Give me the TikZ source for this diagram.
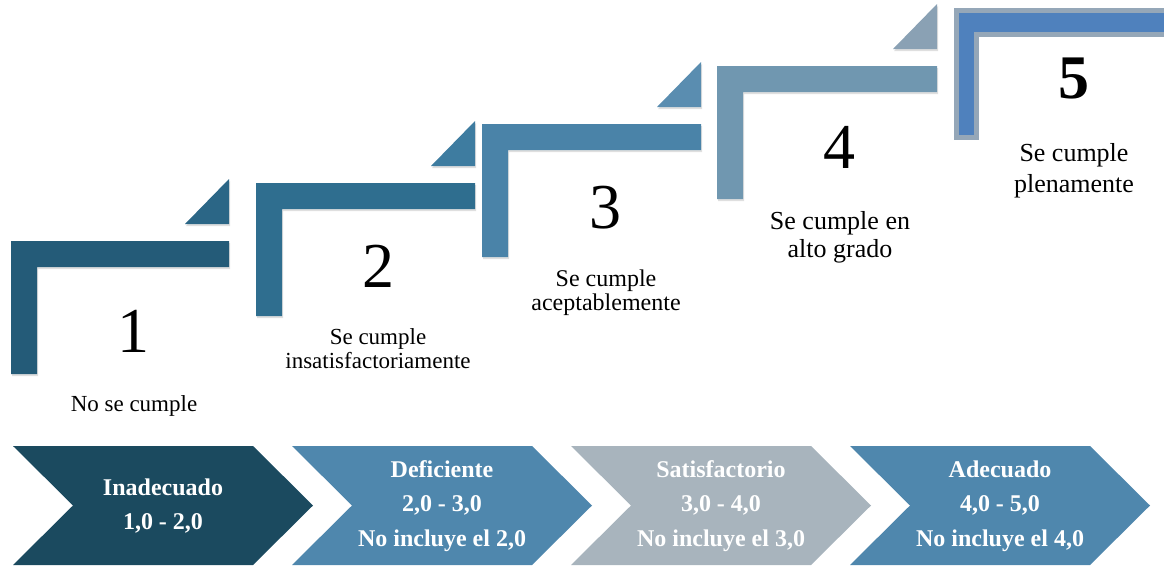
\documentclass[tikz,border=0pt]{standalone}
\usepackage{fontspec}
\setmainfont{Liberation Serif}
\usepackage{xcolor}
\definecolor{stepone}{RGB}{36,91,120}
\definecolor{steponetri}{RGB}{43,102,134}
\definecolor{steptwo}{RGB}{47,110,143}
\definecolor{steptwotri}{RGB}{62,124,160}
\definecolor{stepthree}{RGB}{74,131,168}
\definecolor{stepthreetri}{RGB}{90,141,176}
\definecolor{stepfour}{RGB}{112,151,176}
\definecolor{stepfourtri}{RGB}{138,161,180}
\definecolor{stepfive}{RGB}{79,129,189}
\definecolor{stepfiveedge}{RGB}{149,167,184}
\definecolor{chevdark}{RGB}{27,74,95}
\definecolor{chevblue}{RGB}{79,135,173}
\definecolor{chevgray}{RGB}{168,180,189}
\usetikzlibrary{shadows}

\begin{document}
\begin{tikzpicture}[x=1pt, y=-1pt,
  num/.style={font=\fontsize{64}{64}\selectfont, anchor=base, inner sep=0pt},
  lbl/.style={font=\fontsize{23}{24}\selectfont, align=center, anchor=base, inner sep=0pt},
  chevtxt/.style={font=\fontsize{24}{34.5}\selectfont\bfseries, text=white, align=center, inner sep=0pt},
  soft/.style={drop shadow={opacity=0.25, shadow xshift=1pt, shadow yshift=-2pt}}]
  \useasboundingbox (0,0) rectangle (1164,565);
  % steps
  \foreach \l/\t/\r/\c in {11/241/229/stepone, 256/183/475/steptwo, 482/124/701/stepthree, 717/66/937/stepfour}{
    \fill[\c, soft] (\l,\t) -- (\r,\t) -- (\r,\t+26) -- (\l+26,\t+26) -- (\l+26,\t+133) -- (\l,\t+133) -- cycle;
    \fill[\c tri, soft] (\r-44,\t-17) -- (\r,\t-62) -- (\r,\t-17) -- cycle;
  }
  \draw[stepfiveedge, fill=stepfive, line width=5pt, soft] (956.5,10.5) -- (1175,10.5) -- (1175,34.5) -- (976.5,34.5) -- (976.5,137.5) -- (956.5,137.5) -- cycle;

  % numbers and texts (base = last line)
  \node[num] (n1) at (133,352) {1};
  \node[num] (n2) at (378,287) {2};
  \node[num] (n3) at (605,228) {3};
  \node[num] (n4) at (839,168) {4};
  \node[num, font=\fontsize{62}{62}\selectfont\bfseries] (n5) at (1074,98) {5};
  \node[lbl] (l1) at (134,411) {No se cumple};
  \node[lbl] (l2) at (378,368) {Se cumple\\insatisfactoriamente};
  \node[lbl, font=\fontsize{24}{24}\selectfont] (l3) at (606,310) {Se cumple\\aceptablemente};
  \node[lbl, font=\fontsize{26}{28}\selectfont] (l4) at (840,257) {Se cumple en\\alto grado};
  \node[lbl, font=\fontsize{26}{31}\selectfont] (l5) at (1074,192) {Se cumple\\plenamente};

  % chevrons
  \foreach \x/\c/\txt [count=\i] in {13/chevdark/{Inadecuado\\1,0 - 2,0}, 292/chevblue/{Deficiente\\2,0 - 3,0\\No incluye el 2,0}, 571/chevgray/{Satisfactorio\\3,0 - 4,0\\No incluye el 3,0}, 850/chevblue/{Adecuado\\4,0 - 5,0\\No incluye el 4,0}}{
    \fill[\c] (\x,446) -- (\x+240,446) -- (\x+300,505.5) -- (\x+240,565) -- (\x,565) -- (\x+60,505.5) -- cycle;
    \node[chevtxt] (c\i) at (\x+150,506) {\txt};
  }
\end{tikzpicture}
\end{document}
